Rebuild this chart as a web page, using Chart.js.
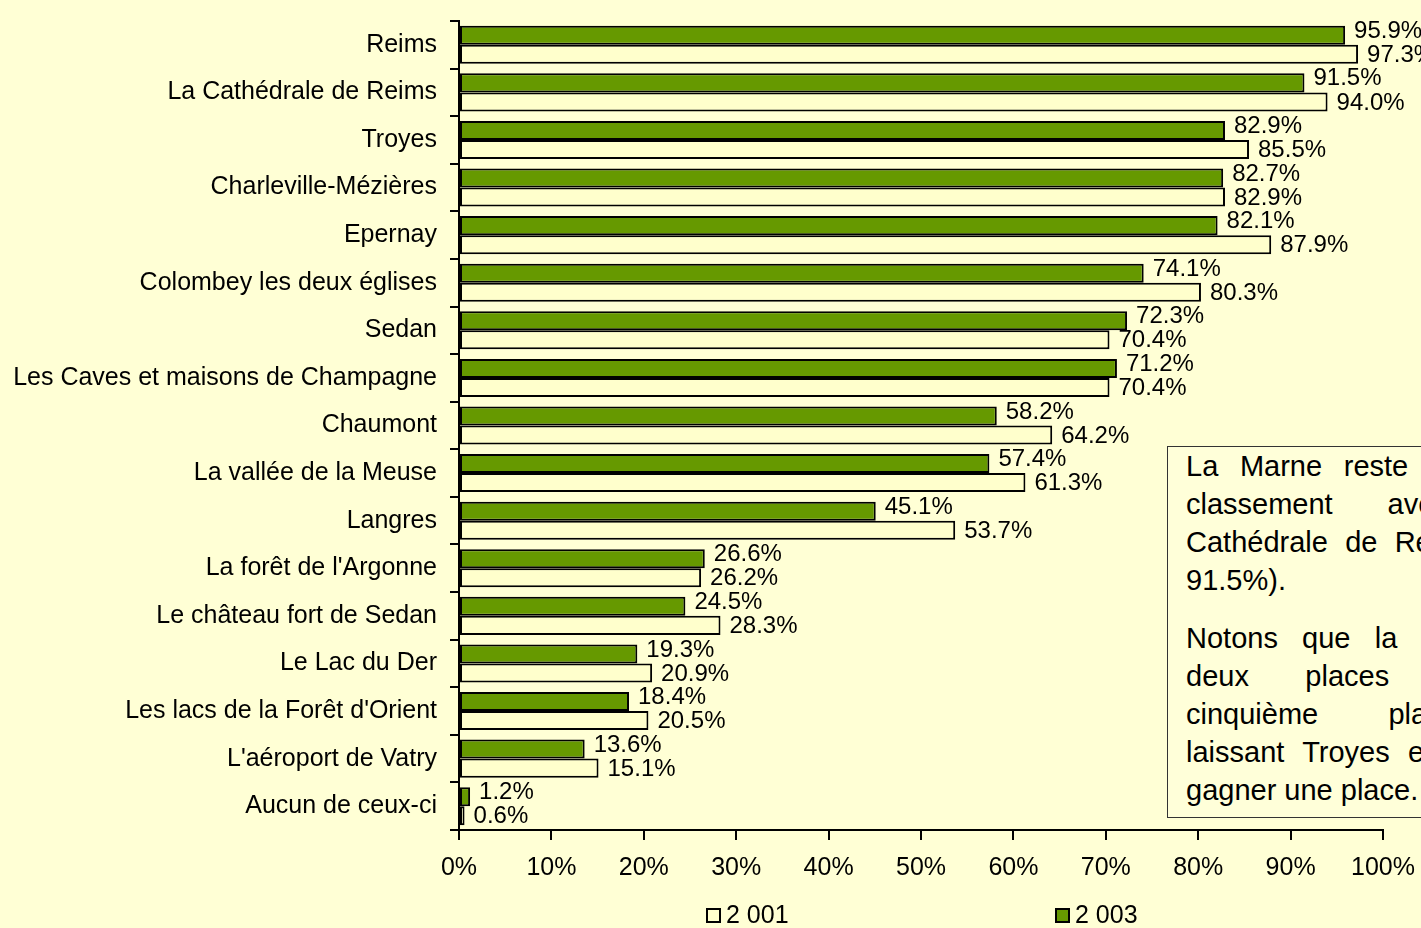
<!DOCTYPE html>
<html>
<head>
<meta charset="utf-8">
<script src="https://cdn.jsdelivr.net/npm/chart.js@4.4.0/dist/chart.umd.min.js"></script>
<style>
    html, body { margin: 0; padding: 0; background: #FFFFD5; overflow: hidden; }
    #wrap { position: relative; width: 1421px; height: 928px; }
    #chart { position: absolute; left: 0; top: 0; }
    #note {
        position: absolute; left: 1167px; top: 446px; width: 460px; height: 372px;
        box-sizing: border-box; border: 1.5px solid #333; background: #FFFFD9;
        padding: 0 0 0 18px; color: #000;
        font-family: "Liberation Sans", Arial, sans-serif; font-size: 29px; line-height: 38px;
    }
    #note .l { width: 400px; text-align: justify; text-align-last: justify; }
    #note .last { text-align-last: left; }
    #note .p2 { margin-top: 20px; }
</style>
</head>
<body>
<div id="wrap">
    <canvas id="chart" width="1421" height="928"></canvas>
    <div id="note">
        <div class="l">La Marne reste en tête du</div>
        <div class="l">classement avec Reims</div>
        <div class="l">Cathédrale de Reims (95.9%</div>
        <div class="l last">91.5%).</div>
        <div class="l p2">Notons que la Marne perd</div>
        <div class="l">deux places avec la</div>
        <div class="l">cinquième place pour</div>
        <div class="l">laissant Troyes et Charleville</div>
        <div class="l last">gagner une place.</div>
    </div>
</div>
<script>
// categories (top to bottom)
const categories = [
    'Reims', 'La Cathédrale de Reims', 'Troyes', 'Charleville-Mézières', 'Epernay',
    'Colombey les deux églises', 'Sedan', 'Les Caves et maisons de Champagne', 'Chaumont',
    'La vallée de la Meuse', 'Langres', "La forêt de l'Argonne", 'Le château fort de Sedan',
    'Le Lac du Der', "Les lacs de la Forêt d'Orient", "L'aéroport de Vatry", 'Aucun de ceux-ci'
];

// values in %
const values2003 = [95.9, 91.5, 82.9, 82.7, 82.1, 74.1, 72.3, 71.2, 58.2, 57.4, 45.1, 26.6, 24.5, 19.3, 18.4, 13.6, 1.2];
const values2001 = [97.3, 94.0, 85.5, 82.9, 87.9, 80.3, 70.4, 70.4, 64.2, 61.3, 53.7, 26.2, 28.3, 20.9, 20.5, 15.1, 0.6];

const seriesNames = ['2 001', '2 003'];
const xTickLabels = ['0%', '10%', '20%', '30%', '40%', '50%', '60%', '70%', '80%', '90%', '100%'];

const FONT = '"Liberation Sans", Arial, sans-serif';
const GREEN = '#669900';
const PALE = '#FFFFCC';

Chart.defaults.font.family = FONT;
Chart.defaults.color = '#000';

// value labels + legend drawn by hand (Excel style)
const labelsPlugin = {
    id: 'valueLabels',
    afterDatasetsDraw(chart) {
        const ctx = chart.ctx;
        ctx.save();
        ctx.font = '24px ' + FONT;
        ctx.fillStyle = '#000';
        ctx.textBaseline = 'middle';
        ctx.textAlign = 'left';
        chart.data.datasets.forEach((ds, di) => {
            const meta = chart.getDatasetMeta(di);
            meta.data.forEach((bar, i) => {
                const dy = di === 0 ? -4 : 1;
                ctx.fillText(ds.data[i].toFixed(1) + '%', bar.x + 9, bar.y + dy);
            });
        });

        // legend
        const items = [
            { text: seriesNames[0], color: PALE, x: 707 },
            { text: seriesNames[1], color: GREEN, x: 1056 }
        ];
        ctx.font = '25px ' + FONT;
        items.forEach(it => {
            ctx.fillStyle = it.color;
            ctx.fillRect(it.x, 909, 13, 13);
            ctx.strokeStyle = '#000';
            ctx.lineWidth = 2;
            ctx.strokeRect(it.x, 909, 13, 13);
            ctx.fillStyle = '#000';
            ctx.fillText(it.text, it.x + 19, 916);
        });
        ctx.restore();
    }
};

new Chart(document.getElementById('chart'), {
    type: 'bar',
    data: {
        labels: categories,
        datasets: [
            {
                label: seriesNames[1],
                data: values2003,
                backgroundColor: GREEN,
                borderColor: '#000',
                borderWidth: 2,
                borderSkipped: false,
                categoryPercentage: 0.8,
                barPercentage: 1.0
            },
            {
                label: seriesNames[0],
                data: values2001,
                backgroundColor: PALE,
                borderColor: '#000',
                borderWidth: 2,
                borderSkipped: false,
                categoryPercentage: 0.8,
                barPercentage: 1.0
            }
        ]
    },
    options: {
        indexAxis: 'y',
        responsive: false,
        animation: false,
        layout: { padding: { top: 21, right: 38, bottom: 0, left: 0 } },
        plugins: {
            legend: { display: false },
            tooltip: { enabled: false }
        },
        scales: {
            x: {
                min: 0,
                max: 100,
                ticks: {
                    stepSize: 10,
                    autoSkip: false,
                    maxRotation: 0,
                    padding: 13,
                    font: { size: 25 },
                    callback: (v, i) => xTickLabels[i]
                },
                grid: { drawOnChartArea: false, tickLength: 10, color: '#000', lineWidth: 2 },
                border: { color: '#000', width: 2 },
                afterFit: s => { s.height = 98; s.paddingLeft = 0; s.paddingRight = 0; }
            },
            y: {
                ticks: { autoSkip: false, padding: 13, font: { size: 25 } },
                grid: { offset: true, drawOnChartArea: false, tickLength: 9, color: '#000', lineWidth: 2 },
                border: { color: '#000', width: 2 },
                afterFit: s => { s.width = 459; s.paddingTop = 0; s.paddingBottom = 0; }
            }
        }
    },
    plugins: [labelsPlugin]
});
</script>
</body>
</html>
